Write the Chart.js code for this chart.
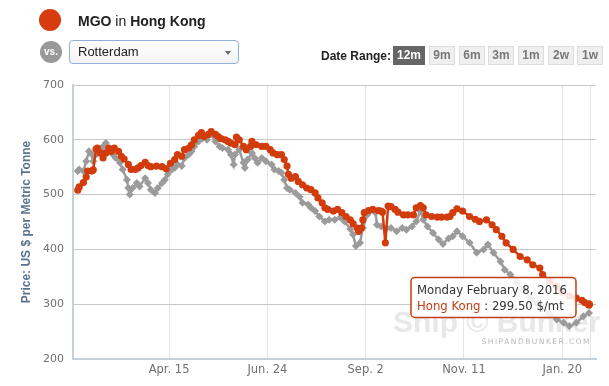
<!DOCTYPE html>
<html lang="en">
<head>
<meta charset="UTF-8">
<title>MGO in Hong Kong</title>
<script src="https://cdn.jsdelivr.net/npm/chart.js@4.4.1/dist/chart.umd.min.js"></script>
<style>
    body { margin: 0; width: 609px; height: 386px; overflow: hidden; background: #fff;
           font-family: "Liberation Sans", Arial, sans-serif; position: relative; }
    #chartBox { position: absolute; left: 0; top: 0; width: 609px; height: 386px; }
    .dot { position: absolute; border-radius: 50%; }
    #title { position: absolute; left: 78px; top: 12px; font-size: 14px; line-height: 18px; color: #222; }
    #title b { font-weight: bold; }
    #vs { left: 40px; top: 41px; width: 22px; height: 22px; background: #999; color: #fff;
          font-weight: bold; font-size: 10px; line-height: 22px; text-align: center; }
    #pick { position: absolute; left: 69px; top: 40px; width: 170px; height: 24px; box-sizing: border-box;
            border: 1px solid #8fb0da; border-radius: 4px; background: linear-gradient(#fff, #f3f3f3);
            font-size: 13px; line-height: 22px; padding-left: 8px; color: #222; }
    #arrow { position: absolute; left: 225px; top: 51px; width: 0; height: 0;
             border-left: 3.5px solid transparent; border-right: 3.5px solid transparent; border-top: 4px solid #666; }
    #range { position: absolute; left: 321px; top: 48px; font-size: 12px; font-weight: bold; color: #222; line-height: 16px; }
    .btn { position: absolute; top: 46px; height: 19px; box-sizing: border-box; border: 1px solid #ddd;
           background: #efefef; color: #777; font-size: 12px; font-weight: bold; line-height: 17px; text-align: center; }
    .btn.on { background: #666; border-color: #666; color: #fff; }
</style>
</head>
<body>
    <div id="chartBox"><canvas id="priceChart" width="609" height="386"></canvas></div>

    <div class="dot" style="left:39px;top:9px;width:22px;height:22px;background:#d63c0d"></div>
    <div id="title"><b>MGO</b> in <b>Hong Kong</b></div>
    <div class="dot" id="vs">vs.</div>
    <div id="pick">Rotterdam</div>
    <div id="arrow"></div>
    <div id="range">Date Range:</div>
    <div id="buttons"></div>

<script>
    // day numbers counted from Mon Feb 9, 2015
    var hkDays = [0, 1, 4, 6, 7, 10, 11, 13, 14, 16, 18, 20, 22, 24, 26, 29, 31, 33, 36, 38,
        41, 43, 45, 48, 50, 52, 56, 60, 63, 66, 69, 71, 74, 76, 79, 81, 83, 86, 88, 90,
        93, 95, 98, 100, 102, 105, 107, 109, 112, 113, 115, 118, 120, 123, 124, 127, 131, 134, 137, 139,
        142, 145, 147, 149, 150, 152, 155, 157, 160, 163, 166, 169, 171, 174, 176, 178, 182, 185, 188, 191,
        194, 196, 199, 200, 202, 203, 204, 207, 210, 214, 216, 217, 219, 221, 223, 226, 228, 232, 235, 239,
        241, 244, 246, 248, 252, 256, 259, 263, 265, 267, 270, 274, 279, 283, 286, 291, 295, 298, 302, 305,
        310, 315, 320, 324, 329, 331, 336, 341, 345, 350, 355, 359, 361, 364];
    var hkPrices = [508, 514, 522, 532, 543, 543, 545, 583, 585, 576, 567, 576, 585, 579, 585, 579, 570, 565, 555, 546,
        546, 549, 553, 559, 553, 551, 552, 551, 547, 557, 564, 573, 570, 582, 585, 591, 600, 608, 613, 606,
        610, 615, 610, 606, 602, 600, 597, 594, 591, 605, 600, 588, 582, 588, 597, 591, 588, 588, 582, 576,
        573, 573, 564, 552, 537, 530, 533, 524, 518, 512, 509, 503, 494, 485, 476, 473, 470, 473, 467, 460,
        454, 447, 439, 433, 439, 454, 467, 471, 473, 471, 470, 468, 412, 479, 478, 473, 468, 463, 463, 463,
        476, 480, 476, 463, 460, 459, 459, 459, 460, 467, 474, 470, 460, 455, 451, 454, 445, 436, 424, 412,
        400, 387, 381, 372, 366, 354, 342, 333, 322, 315, 311, 307, 303, 299.5];

    var rtmDays = [0, 1, 4, 6, 8, 10, 11, 13, 16, 18, 20, 22, 25, 27, 30, 32, 35, 36, 37, 39,
        42, 44, 48, 50, 52, 55, 57, 60, 62, 64, 67, 69, 71, 74, 76, 79, 81, 83, 86, 89,
        92, 95, 98, 101, 103, 107, 109, 111, 112, 115, 118, 119, 121, 124, 126, 128, 131, 134, 138, 140,
        143, 145, 147, 149, 151, 155, 158, 160, 164, 166, 169, 172, 176, 179, 183, 187, 190, 194, 196, 198,
        201, 203, 206, 208, 212, 213, 216, 220, 223, 227, 231, 234, 238, 241, 244, 246, 249, 253, 257, 260,
        264, 267, 270, 274, 279, 284, 289, 292, 296, 301, 304, 308, 313, 317, 322, 327, 331, 336, 341, 346,
        350, 355, 360, 364];
    var rtmPrices = [543, 546, 543, 561, 579, 573, 561, 573, 582, 588, 594, 582, 573, 567, 558, 546, 527, 512, 500, 512,
        521, 515, 530, 521, 509, 503, 512, 521, 527, 537, 546, 549, 555, 552, 567, 573, 579, 588, 597, 603,
        600, 610, 597, 588, 585, 582, 573, 555, 573, 582, 558, 549, 564, 576, 567, 558, 567, 561, 555, 546,
        543, 540, 527, 512, 509, 503, 496, 485, 482, 476, 470, 460, 451, 454, 454, 458, 451, 437, 427, 406,
        412, 439, 463, 470, 467, 445, 442, 439, 439, 433, 439, 436, 442, 451, 470, 454, 442, 430, 418, 410,
        420, 424, 433, 424, 412, 394, 400, 409, 394, 378, 363, 354, 340, 327, 312, 300, 292, 282, 272, 266,
        260, 266, 278, 284];

    var tickDays = [65, 135, 205, 275, 345, 365];
    var tickLabels = ['Apr. 15', 'Jun. 24', 'Sep. 2', 'Nov. 11', 'Jan. 20', ''];
    var rangeNames = ['12m', '9m', '6m', '3m', '1m', '2w', '1w'];
    var tipTitle = 'Monday February 8, 2016';

    var hkColor = '#d23c0c';
    var rtmColor = '#9b9b9b';

    // date range buttons
    var btnLeft = [393, 429, 459, 488, 518, 548, 577];
    var btnWidth = [32, 26, 26, 26, 26, 26, 26];
    var v_box = document.getElementById('buttons');
    rangeNames.forEach(function (name, i) {
        var b = document.createElement('div');
        b.className = 'btn' + (i === 0 ? ' on' : '');
        b.style.left = btnLeft[i] + 'px';
        b.style.width = btnWidth[i] + 'px';
        b.textContent = name;
        v_box.appendChild(b);
    });

    var toPoints = function (days, prices) {
        return days.map(function (d, i) { return { x: d, y: prices[i] }; });
    };

    var watermark = {
        id: 'watermark',
        beforeDatasetsDraw: function (chart) {
            var c = chart.ctx, a = chart.chartArea;
            c.save();
            c.fillStyle = '#e8e8e8';
            c.font = 'bold 30px "Liberation Sans", Arial, sans-serif';
            c.textBaseline = 'alphabetic';
            c.textAlign = 'left';
            c.fillText('Ship \u00a9 Bunker', a.right - 203, a.bottom - 27);
            c.fillStyle = '#b8b8b8';
            c.font = '7.5px "DejaVu Sans", sans-serif';
            c.letterSpacing = '1.5px';
            c.textBaseline = 'middle';
            c.textAlign = 'right';
            c.fillText('SHIPANDBUNKER.COM', a.right - 5, a.bottom - 17);
            c.letterSpacing = '0px';
            c.restore();
        }
    };

    var tipBox = {
        id: 'tipBox',
        afterDraw: function (chart) {
            var meta = chart.getDatasetMeta(0);
            var pt = meta.data[meta.data.length - 1];
            var c = chart.ctx;
            var w = 165, h = 40;
            var x = pt.x - 13 - w, y = pt.y + 13 - h;
            c.save();
            c.letterSpacing = '0px';
            c.beginPath();
            c.roundRect(x, y, w, h, 4);
            c.fillStyle = 'rgba(255,255,255,0.86)';
            c.fill();
            c.lineWidth = 1.5;
            c.strokeStyle = '#c53d12';
            c.stroke();
            c.font = '11.7px "DejaVu Sans", sans-serif';
            c.textBaseline = 'middle';
            c.textAlign = 'left';
            c.fillStyle = '#333';
            c.fillText(tipTitle, x + 6, y + 13.5);
            var name = 'Hong Kong';
            c.fillStyle = '#c03d14';
            c.fillText(name, x + 6, y + 29.5);
            var nw = c.measureText(name).width;
            c.fillStyle = '#333';
            c.fillText(' : ' + hkPrices[hkPrices.length - 1].toFixed(2) + ' $/mt', x + 6 + nw, y + 29.5);
            c.restore();
        }
    };

    var ctx = document.getElementById('priceChart').getContext('2d');
    var lastHk = hkDays.length - 1;
    var priceChart = new Chart(ctx, {
        type: 'line',
        data: {
            datasets: [{
                label: 'Hong Kong',
                data: toPoints(hkDays, hkPrices),
                borderColor: hkColor,
                backgroundColor: hkColor,
                borderWidth: 2.5,
                pointStyle: 'circle',
                pointRadius: function (c) { return c.dataIndex === lastHk ? 4.2 : 3.6; },
                pointBorderWidth: 0,
                tension: 0
            }, {
                label: 'Rotterdam',
                data: toPoints(rtmDays, rtmPrices),
                borderColor: rtmColor,
                backgroundColor: rtmColor,
                borderWidth: 2.5,
                pointStyle: 'rectRot',
                pointRadius: 4,
                pointBorderWidth: 0,
                tension: 0
            }]
        },
        options: {
            responsive: false,
            animation: false,
            events: [],
            layout: { padding: { top: 85, right: 13, left: 0, bottom: 0 } },
            plugins: { legend: { display: false }, tooltip: { enabled: false } },
            scales: {
                x: {
                    type: 'linear',
                    min: -3.4,
                    max: 369,
                    afterBuildTicks: function (s) {
                        s.ticks = tickDays.map(function (v) { return { value: v }; });
                    },
                    afterFit: function (s) { s.height = 27; },
                    ticks: {
                        autoSkip: false,
                        maxRotation: 0,
                        padding: 4,
                        color: '#707070',
                        font: { family: '"DejaVu Sans", sans-serif', size: 11.5 },
                        callback: function (v) {
                            var i = tickDays.indexOf(v);
                            return i < 0 ? '' : tickLabels[i];
                        }
                    },
                    grid: { color: '#e2e6ea', drawTicks: false },
                    border: { color: '#c4d0dc', width: 2 }
                },
                y: {
                    min: 200,
                    max: 700,
                    afterFit: function (s) { s.width = 73; },
                    ticks: {
                        stepSize: 100,
                        padding: 9,
                        color: '#707070',
                        font: { family: '"DejaVu Sans", sans-serif', size: 11 }
                    },
                    grid: { color: '#c8c8c8', drawTicks: false },
                    border: { color: '#c4d0dc', width: 2 },
                    title: {
                        display: true,
                        text: 'Price: US $ per Metric Tonne',
                        color: '#5b7390',
                        font: { family: '"Liberation Sans", Arial, sans-serif', size: 12, weight: 'bold' },
                        padding: { top: 19, bottom: 0 }
                    }
                }
            }
        },
        plugins: [watermark, tipBox]
    });
</script>
</body>
</html>
